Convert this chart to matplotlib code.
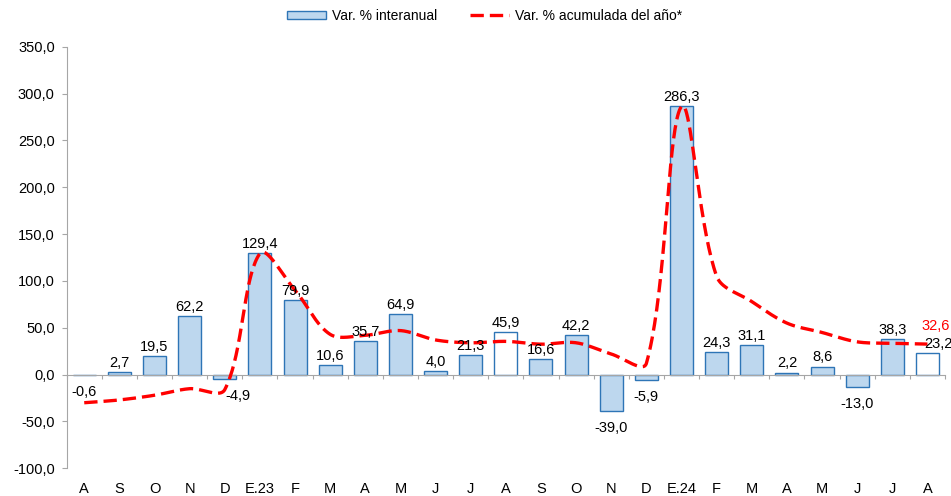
import numpy as np
import matplotlib
matplotlib.use("Agg")
import matplotlib.pyplot as plt
from matplotlib.patches import Patch
from matplotlib.lines import Line2D

# ---- data ----
categories = ["A", "S", "O", "N", "D", "E.23", "F", "M", "A", "M", "J", "J", "A",
              "S", "O", "N", "D", "E.24", "F", "M", "A", "M", "J", "J", "A"]
interanual = [-0.6, 2.7, 19.5, 62.2, -4.9, 129.4, 79.9, 10.6, 35.7, 64.9, 4.0, 21.3, 45.9,
              16.6, 42.2, -39.0, -5.9, 286.3, 24.3, 31.1, 2.2, 8.6, -13.0, 38.3, 23.2]
acumulada = [-30.0, -27.0, -22.0, -15.0, -16.0, 129.4, 90.0, 43.0, 42.0, 47.0, 37.0, 34.0, 35.5,
             32.5, 34.0, 22.0, 12.0, 286.3, 105.0, 78.0, 55.0, 45.0, 35.0, 33.5, 32.6]
white_bars = [12, 24]           # August bars drawn without fill
yticks = [-100, -50, 0, 50, 100, 150, 200, 250, 300, 350]

plt.rcParams['font.family'] = ['Liberation Sans', 'DejaVu Sans']

FILL = "#BDD7EE"
EDGE = "#2E75B6"
RED = "#FF0000"
GRAY = "#A6A6A6"

fig = plt.figure(figsize=(9.51, 4.96), dpi=100)
ax = fig.add_axes([0.0701, 0.0558, 0.9236, 0.850])
ax.set_xlim(-0.5, len(categories) - 0.5)
ax.set_ylim(-100, 350)

x = np.arange(len(categories))
colors = [("white" if i in white_bars else FILL) for i in range(len(x))]
ax.bar(x, interanual, width=0.655, color=colors, edgecolor=EDGE, linewidth=1.0, zorder=2)

# ---- smoothed line (Excel-like, chord-length weighted Bezier in display space) ----
def smooth_curve(ax, xs, ys, n=40, f=1/3):
    pts = ax.transData.transform(np.column_stack([xs, ys]))
    N = len(pts)
    out = []
    for i in range(N - 1):
        p0 = pts[i]; p3 = pts[i + 1]
        pm = pts[i - 1] if i > 0 else p0
        pn = pts[i + 2] if i + 2 < N else p3
        d1 = np.linalg.norm(p0 - pm); d2 = np.linalg.norm(p3 - p0); d3 = np.linalg.norm(pn - p3)
        r1 = d2 / (d1 + d2) if (d1 + d2) > 0 else 0
        r2 = d2 / (d2 + d3) if (d2 + d3) > 0 else 0
        c1 = p0 + (p3 - pm) * r1 * f
        c2 = p3 - (pn - p0) * r2 * f
        t = np.linspace(0, 1, n)[:, None]
        seg = ((1 - t) ** 3) * p0 + 3 * ((1 - t) ** 2) * t * c1 + 3 * (1 - t) * t ** 2 * c2 + t ** 3 * p3
        out.append(seg if i == 0 else seg[1:])
    curve = np.vstack(out)
    return ax.transData.inverted().transform(curve)

curve = smooth_curve(ax, x, acumulada)
ax.plot(curve[:, 0], curve[:, 1], color=RED, linewidth=2.4, dashes=(4.0, 1.8), zorder=3)

# ---- data labels ----
def fmt(v):
    return f"{v:.1f}".replace(".", ",")

xoff = {4: 9.5, 24: 8}
for i, v in enumerate(interanual):
    dx = xoff.get(i, 0)
    if v >= 0:
        ax.annotate(fmt(v), (x[i], v), xytext=(dx, 1.5), textcoords="offset points",
                    ha="center", va="bottom", fontsize=10.5, color="black", zorder=4)
    else:
        ax.annotate(fmt(v), (x[i], v), xytext=(dx, -7), textcoords="offset points",
                    ha="center", va="top", fontsize=10.5, color="black", zorder=4)

ax.annotate(fmt(acumulada[-1]), (x[-1], acumulada[-1]), xytext=(6, 8), textcoords="offset points",
            ha="center", va="bottom", fontsize=10.5, color=RED, zorder=4)

# ---- axes styling ----
for s in ["top", "right"]:
    ax.spines[s].set_visible(False)
ax.spines["left"].set_color(GRAY)
ax.spines["bottom"].set_color(GRAY)
ax.spines["bottom"].set_position(("data", 0))

ax.set_yticks(yticks)
ax.set_yticklabels([fmt(v) for v in yticks])
ax.tick_params(axis="y", length=3.6, width=0.8, color=GRAY, pad=5, labelsize=10.5, labelcolor="black")

ax.set_xticks(x)
ax.set_xticklabels(categories)
ax.set_xticks(np.arange(len(categories) + 1) - 0.5, minor=True)
ax.tick_params(axis="x", which="major", length=0, pad=77, labelsize=10.5, labelcolor="black")
ax.tick_params(axis="x", which="minor", length=3.2, width=0.8, color=GRAY, direction="out")

# ---- legend ----
handles = [Patch(facecolor=FILL, edgecolor=EDGE, linewidth=1.0),
           Line2D([0], [0], color=RED, linewidth=2.4, dashes=(4.0, 1.8))]
fig.legend(handles, ["Var. % interanual", "Var. % acumulada del año*"], loc="center",
           bbox_to_anchor=(0.5095, 0.968), ncol=2, frameon=False, fontsize=10,
           handlelength=2.8, handleheight=0.6, handletextpad=0.4, columnspacing=2.4)

fig.savefig("out.png", dpi=100)
